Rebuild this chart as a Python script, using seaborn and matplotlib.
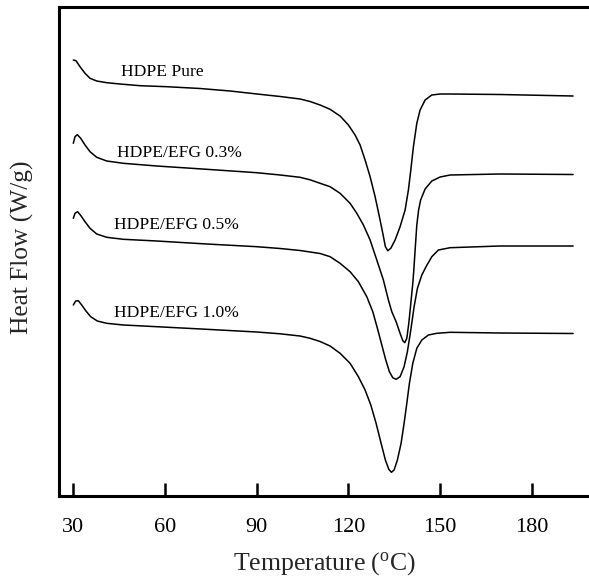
import numpy as np
import pandas as pd
import matplotlib
matplotlib.use("Agg")
import matplotlib.pyplot as plt
import seaborn as sns

# ---- data (temperature in degC, heat flow in arbitrary offset units) ----
temp_pure = [30.0, 30.88, 32.19, 33.83, 35.47, 37.66, 40.93, 45.28, 51.83, 60.56, 71.47, 81.28,
             90.1, 97.67, 104.18, 107.45, 110.73, 114.0, 117.27, 119.99, 122.18, 123.82,
             125.45, 127.09, 128.73, 130.13, 131.24, 132.09, 132.88, 133.86, 135.27, 136.90,
             138.54, 139.62, 140.41, 141.26, 142.37, 143.45, 145.09, 147.28, 150.0, 153.27,
             169.6, 193.5]
hf_pure = [4.36, 4.353, 4.293, 4.227, 4.177, 4.15, 4.133, 4.12, 4.103, 4.093, 4.075, 4.05,
           4.02, 3.995, 3.97, 3.945, 3.91, 3.867, 3.80, 3.71, 3.61, 3.51,
           3.36, 3.193, 2.993, 2.793, 2.627, 2.493, 2.453, 2.477, 2.56, 2.693,
           2.86, 3.06, 3.26, 3.493, 3.727, 3.86, 3.96, 4.01, 4.02, 4.02,
           4.015, 4.00]

temp_03 = [30.0, 30.56, 31.31, 32.42, 33.83, 35.47, 37.66, 40.93, 46.36, 57.29, 73.65, 90.01,
           97.67, 104.18, 107.45, 110.73, 114.0, 117.27, 120.54, 122.74, 124.90, 127.09,
           129.28, 131.44, 133.08, 134.19, 135.60, 136.90, 137.79, 138.44, 139.10, 139.75,
           140.41, 141.06, 141.39, 141.82, 142.37, 142.96, 143.62, 145.09, 147.28, 150.0,
           153.27, 169.6, 193.5]
hf_03 = [3.527, 3.593, 3.613, 3.577, 3.51, 3.443, 3.387, 3.35, 3.327, 3.30, 3.267, 3.233,
         3.21, 3.187, 3.162, 3.127, 3.093, 3.027, 2.927, 2.827, 2.71, 2.56,
         2.36, 2.16, 1.96, 1.843, 1.743, 1.627, 1.553, 1.533, 1.577, 1.727,
         1.927, 2.127, 2.26, 2.46, 2.71, 2.86, 2.96, 3.07, 3.15, 3.19,
         3.21, 3.22, 3.215]

temp_05 = [30.0, 30.56, 31.41, 32.49, 33.83, 35.47, 37.66, 40.93, 46.36, 57.29, 73.65, 90.01,
           97.67, 104.18, 107.45, 110.73, 114.0, 117.27, 120.54, 123.26, 126.01, 127.97,
           129.48, 130.92, 132.22, 133.40, 134.51, 135.60, 136.90, 138.21, 139.29, 140.41,
           141.49, 142.57, 144.01, 145.51, 147.28, 149.44, 153.27, 169.6, 193.5]
hf_05 = [2.777, 2.827, 2.843, 2.803, 2.743, 2.677, 2.62, 2.587, 2.567, 2.55, 2.52, 2.493,
         2.475, 2.455, 2.44, 2.425, 2.393, 2.327, 2.243, 2.143, 1.993, 1.843,
         1.677, 1.51, 1.36, 1.243, 1.183, 1.167, 1.193, 1.293, 1.443, 1.66,
         1.893, 2.077, 2.21, 2.30, 2.393, 2.46, 2.483, 2.50, 2.50]

temp_10 = [30.0, 30.79, 31.64, 32.75, 34.06, 35.69, 37.85, 40.93, 46.36, 57.29, 73.65, 90.01,
           97.67, 104.18, 107.45, 110.73, 114.0, 117.27, 120.54, 123.26, 125.45, 127.32,
           129.05, 130.69, 132.09, 133.21, 134.06, 134.94, 136.02, 137.23, 138.21, 139.10,
           139.95, 141.06, 142.37, 144.01, 146.17, 148.91, 153.27, 169.6, 193.5]
hf_10 = [1.91, 1.95, 1.953, 1.91, 1.853, 1.793, 1.75, 1.727, 1.71, 1.693, 1.667, 1.64,
         1.622, 1.60, 1.577, 1.545, 1.50, 1.427, 1.327, 1.193, 1.06, 0.91,
         0.727, 0.527, 0.36, 0.267, 0.237, 0.26, 0.36, 0.527, 0.727, 0.927,
         1.127, 1.327, 1.477, 1.56, 1.61, 1.627, 1.637, 1.63, 1.625]

series_names = ["HDPE Pure", "HDPE/EFG 0.3%", "HDPE/EFG 0.5%", "HDPE/EFG 1.0%"]
label_temp = [45.6, 44.3, 43.3, 43.3]
label_hf = [4.24, 3.43, 2.71, 1.83]
x_ticks = [30, 60, 90, 120, 150, 180]

frames = []
for name, t, h in zip(series_names, [temp_pure, temp_03, temp_05, temp_10],
                      [hf_pure, hf_03, hf_05, hf_10]):
    frames.append(pd.DataFrame({"Temperature": t, "HeatFlow": h, "Sample": name}))
df = pd.concat(frames, ignore_index=True)

sns.set_style("white")
plt.rcParams["font.family"] = ["Liberation Serif", "DejaVu Serif"]
plt.rcParams["mathtext.fontset"] = "custom"
plt.rcParams["mathtext.rm"] = "Liberation Serif"
plt.rcParams["mathtext.it"] = "Liberation Serif:italic"

fig = plt.figure(figsize=(5.89, 5.81), dpi=100)
ax = fig.add_axes([59 / 589, 1 - 496 / 581, 1 - 59 / 589, (496 - 7) / 581])

sns.lineplot(data=df, x="Temperature", y="HeatFlow", units="Sample", estimator=None,
             sort=False, color="black", linewidth=1.1, ax=ax, legend=False)
for line in ax.get_lines():
    line.set_solid_joinstyle("round")
    line.set_solid_capstyle("round")

for name, tx, ty in zip(series_names, label_temp, label_hf):
    ax.text(tx, ty, name, fontsize=12.6, ha="left", va="center", color="black")

ax.set_xlim(25.32, 198.7)
ax.set_ylim(0, 4.89)
ax.set_xticks(x_ticks)
ax.set_xticklabels([str(v) for v in x_ticks], fontsize=16)
ax.set_yticks([])
ax.tick_params(axis="x", bottom=True, direction="in", length=9.5, width=1.8, pad=16,
               colors="black")
ax.spines["right"].set_visible(False)
for s in ["left", "bottom", "top"]:
    ax.spines[s].set_linewidth(2.2)
    ax.spines[s].set_color("black")

ax.set_xlabel("Temperature ($^{\\mathrm{o}}$C)", fontsize=18.5, labelpad=9)
ax.set_ylabel("Heat Flow (W/g)", fontsize=18.3)
ax.yaxis.set_label_coords(-0.047, 0.509)

fig.savefig("out.png", dpi=100)
